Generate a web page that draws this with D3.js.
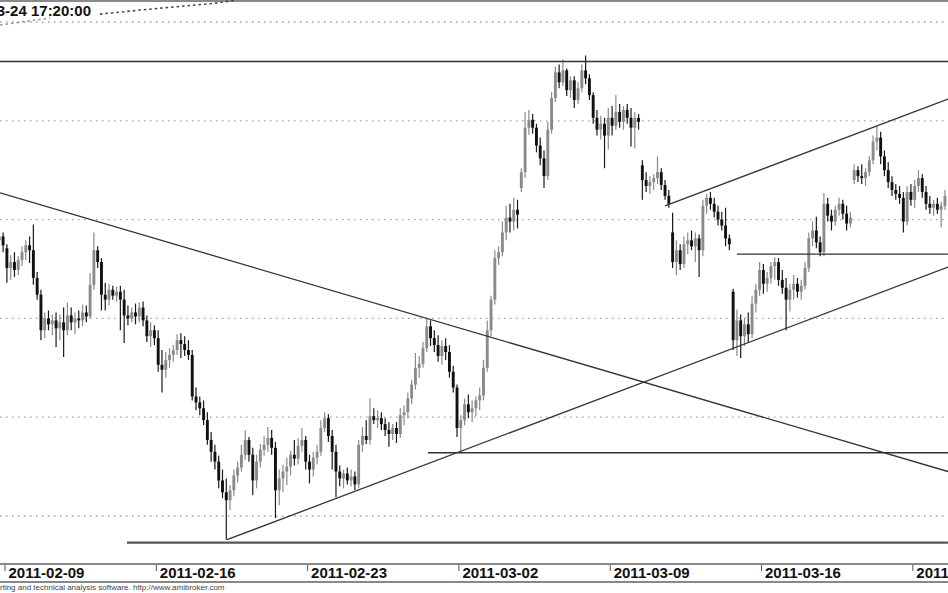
<!DOCTYPE html>
<html><head><meta charset="utf-8">
<script src="https://cdn.jsdelivr.net/npm/d3@7/dist/d3.min.js"></script>
<style>html,body{margin:0;padding:0;background:#fff;}svg{display:block;}</style>
</head><body>
<svg id="chart" width="948" height="593"></svg>
<script>
const days = ["2011-02-08","2011-02-09","2011-02-10","2011-02-11","2011-02-14","2011-02-15","2011-02-16","2011-02-17","2011-02-18","2011-02-21","2011-02-22","2011-02-23","2011-02-24","2011-02-25","2011-02-28","2011-03-01","2011-03-02","2011-03-03","2011-03-04","2011-03-07","2011-03-08","2011-03-09","2011-03-10","2011-03-11","2011-03-14","2011-03-15","2011-03-16","2011-03-17","2011-03-18","2011-03-21","2011-03-22","2011-03-23","2011-03-24"];
const slotsPerDay = 8;
const firstSlot = 6;
const tickDays = ["2011-02-09","2011-02-16","2011-02-23","2011-03-02","2011-03-09","2011-03-16","2011-03-23"];
const gridValues = [3900,4000,4100,4200,4300,4400];
const titleText = "2011-03-24 17:20:00";
const footerText = "AmiBroker - charting and technical analysis software. http://www.amibroker.com";
const footerHidden = "AmiBroker - cha";

const opens = [
4179,4183,
4171,4151,4157,4149,4159,4167,4174,4169,
4141,4124,4088,4100,4094,4098,4090,4096,
4088,4103,4096,4100,4098,4106,4102,4134,
4169,4157,4124,4119,4129,4123,4127,4119,
4103,4100,4106,4102,4111,4098,4082,4088,
4080,4053,4048,4058,4063,4068,4078,4074,
4068,4063,4021,4015,4009,3997,3977,3965,
3955,3936,3924,3916,3926,3941,3949,3962,
3977,3962,3936,3955,3967,3972,3979,3969,
3926,3938,3945,3950,3962,3958,3971,3977,
3955,3947,3959,3965,3989,3999,3981,3965,
3945,3938,3943,3936,3940,3932,3972,3981,
3977,4001,3997,3999,3993,3987,3983,3989,
3983,4002,4005,4019,4033,4050,4054,4070,
4092,4080,4073,4062,4072,4066,4046,4030,
3989,3997,4013,4005,4009,4017,4022,4050,
4088,4119,4161,4167,4187,4202,4198,4210,
4232,4248,4293,4301,4293,4275,4262,4244,
4291,4323,4349,4339,4351,4331,4341,4321,
4333,4351,4343,4326,4303,4291,4297,4285,
4303,4295,4309,4299,4311,4303,4293,4303,
4255,4240,4234,4238,4242,4248,4235,4224,
4187,4157,4169,4155,4175,4179,4173,4181,
4169,4214,4222,4216,4208,4200,4194,4181,
4127,4078,4098,4082,4094,4084,4115,4129,
4149,4135,4141,4153,4157,4139,4131,4119,
4129,4135,4127,4133,4151,4181,4189,4177,
4167,4216,4204,4198,4210,4216,4206,4196,
4240,4250,4244,4242,4248,4260,4279,4283,
4264,4250,4238,4230,4226,4222,4198,4228,
4220,4234,4242,4228,4216,4212,4216,4210,
4214];
const highs = [
4191,4187,
4175,4164,4167,4163,4173,4179,4183,4195,
4147,4129,4106,4108,4104,4106,4104,4111,
4116,4111,4106,4108,4114,4113,4146,4187,
4173,4161,4136,4135,4133,4132,4133,4129,
4113,4111,4115,4116,4117,4103,4096,4093,
4088,4068,4066,4070,4073,4084,4085,4082,
4078,4068,4030,4021,4017,4005,3985,3972,
3961,3947,3938,3931,3947,3955,3972,3987,
3980,3969,3962,3973,3981,3990,3987,3975,
3947,3952,3959,3966,3977,3979,3989,3981,
3962,3965,3972,3997,4005,4003,3987,3972,
3951,3947,3949,3947,3945,3977,3990,3997,
4019,4009,4007,4005,3999,3995,3993,3995,
4009,4012,4025,4038,4065,4062,4076,4100,
4098,4088,4083,4078,4080,4073,4052,4033,
4002,4019,4023,4017,4021,4030,4058,4098,
4123,4169,4173,4198,4214,4216,4222,4220,
4252,4309,4311,4307,4297,4283,4270,4299,
4329,4355,4357,4362,4353,4345,4345,4339,
4357,4366,4347,4329,4311,4305,4303,4313,
4315,4326,4317,4315,4317,4313,4309,4307,
4260,4248,4244,4246,4264,4252,4240,4230,
4207,4179,4175,4183,4187,4189,4187,4185,
4220,4226,4228,4222,4214,4208,4212,4185,
4130,4109,4104,4100,4106,4123,4135,4157,
4155,4147,4157,4162,4161,4149,4141,4135,
4144,4141,4139,4157,4187,4198,4203,4183,
4227,4222,4210,4214,4222,4220,4214,4208,
4256,4254,4256,4252,4264,4285,4294,4289,
4270,4258,4244,4236,4234,4228,4234,4236,
4240,4250,4246,4234,4224,4220,4222,4218,
4230];
const lows = [
4171,4167,
4136,4139,4142,4144,4153,4159,4156,4134,
4119,4078,4080,4088,4083,4071,4078,4061,
4083,4088,4084,4090,4092,4096,4100,4129,
4151,4108,4108,4113,4119,4117,4088,4075,
4093,4096,4094,4096,4092,4076,4071,4073,
4046,4025,4040,4050,4056,4063,4060,4062,
4058,4017,4007,4002,3992,3972,3955,3947,
3928,3918,3876,3906,3920,3934,3945,3957,
3955,3921,3928,3949,3961,3965,3962,3898,
3911,3924,3931,3941,3951,3952,3965,3947,
3933,3940,3952,3961,3985,3975,3947,3919,
3930,3928,3932,3930,3926,3928,3965,3973,
3972,3993,3989,3987,3981,3970,3977,3974,
3979,3992,3999,4013,4028,4040,4050,4066,
4072,4066,4056,4053,4058,4040,4025,3980,
3965,3992,3999,3995,4001,4007,4017,4046,
4082,4114,4154,4163,4179,4187,4189,4191,
4228,4242,4286,4287,4268,4255,4232,4240,
4287,4319,4333,4335,4325,4323,4313,4317,
4329,4337,4321,4297,4285,4281,4252,4271,
4285,4291,4293,4291,4297,4274,4272,4291,
4220,4228,4226,4230,4236,4230,4220,4212,
4151,4144,4149,4151,4165,4169,4157,4142,
4163,4206,4210,4202,4194,4189,4173,4169,
4068,4062,4060,4072,4076,4080,4106,4123,
4125,4127,4135,4139,4133,4125,4088,4107,
4119,4121,4119,4129,4147,4173,4171,4163,
4163,4198,4189,4194,4204,4200,4189,4192,
4236,4238,4236,4234,4244,4256,4270,4256,
4244,4232,4224,4220,4216,4187,4194,4214,
4212,4228,4222,4210,4206,4204,4206,4192,
4210];
const closes = [
4183,4174,
4151,4157,4149,4159,4167,4174,4169,4141,
4124,4088,4100,4094,4098,4090,4096,4088,
4103,4096,4100,4098,4106,4102,4134,4169,
4157,4124,4119,4129,4123,4127,4119,4103,
4100,4106,4102,4111,4098,4082,4088,4080,
4053,4048,4058,4063,4068,4078,4074,4068,
4063,4021,4015,4009,3997,3977,3965,3955,
3936,3924,3916,3926,3941,3949,3962,3977,
3962,3936,3955,3967,3972,3979,3969,3926,
3938,3945,3950,3962,3958,3971,3977,3955,
3947,3959,3965,3989,3999,3981,3965,3945,
3938,3943,3936,3940,3932,3972,3981,3977,
4001,3997,3999,3993,3987,3983,3989,3983,
4002,4005,4019,4033,4050,4054,4070,4092,
4080,4073,4062,4072,4066,4046,4030,3989,
3997,4013,4005,4009,4017,4022,4050,4088,
4119,4161,4167,4187,4202,4198,4210,4205,
4248,4293,4301,4293,4275,4262,4244,4291,
4323,4349,4339,4351,4331,4341,4321,4333,
4351,4343,4326,4303,4291,4297,4285,4303,
4295,4309,4299,4311,4303,4293,4303,4299,
4240,4234,4238,4242,4248,4235,4224,4216,
4157,4169,4155,4175,4179,4173,4181,4169,
4214,4222,4216,4208,4200,4194,4181,4175,
4078,4098,4082,4094,4084,4115,4129,4149,
4135,4141,4153,4157,4139,4131,4119,4129,
4135,4127,4133,4151,4181,4189,4177,4167,
4216,4204,4198,4210,4216,4206,4196,4202,
4250,4244,4242,4248,4260,4279,4283,4264,
4250,4238,4230,4226,4222,4198,4228,4220,
4234,4242,4228,4216,4212,4216,4210,4214,
4224];

// trend lines: [slot position, price] pairs
const trendDown = [[6.68, 4227], [257.3, 3945]];
const trendUp = [[66.69, 3876], [257.3, 4152]];
const channelTop = [[182.49, 4214], [257.3, 4322]];
const levelTop = [[0, 4360], [257.3, 4360]];
const levelMid = [[201.5, 4165], [257.3, 4165]];
const levelLow = [[119.8, 3964], [257.3, 3964]];
const levelSupport = [[40.25, 3873], [257.3, 3873]];
const dottedLight = [[6.68, 4397], [19.9, 4404]];
const dottedDark = [[33.1, 4408], [49.0, 4414], [63.5, 4419], [68.8, 4422]];

const W = 948, H = 593;
const svg = d3.select("#chart");
const x = d3.scaleLinear().domain([0, days.length * slotsPerDay]).range([-25.26, -25.26 + days.length * 30.26]);
const y = d3.scaleLinear().domain([3900, 4400]).range([516, 22]);

svg.append("defs").append("clipPath").attr("id","plot").append("rect").attr("x",0).attr("y",0).attr("width",W).attr("height",562);

// top frame line
svg.append("line").attr("x1",0).attr("x2",W).attr("y1",1).attr("y2",1).attr("stroke","#8a8a8a").attr("stroke-width",2);

// grid
svg.append("g").selectAll("line").data(gridValues).join("line")
  .attr("x1",0).attr("x2",W).attr("y1",d=>y(d)).attr("y2",d=>y(d))
  .attr("stroke","#a0a0a0").attr("stroke-width",1.3).attr("stroke-dasharray","1.5,4.5");

const plot = svg.append("g").attr("clip-path","url(#plot)");
const line = d3.line().x(d=>x(d[0])).y(d=>y(d[1]));

// dotted indicator line at top
plot.append("path").attr("d",line(dottedLight)).attr("fill","none").attr("stroke","#999").attr("stroke-width",1.6).attr("stroke-dasharray","2.5,3");
plot.append("path").attr("d",line(dottedDark)).attr("fill","none").attr("stroke","#444").attr("stroke-width",1.6).attr("stroke-dasharray","2.5,3");

// candles
const bars = opens.map((o,i)=>({o, h:highs[i], l:lows[i], c:closes[i], g:firstSlot+i}));
const cg = plot.append("g");
cg.selectAll("line.wick").data(bars).join("line").attr("class","wick")
  .attr("x1",d=>x(d.g+0.5)).attr("x2",d=>x(d.g+0.5))
  .attr("y1",d=>y(d.h)).attr("y2",d=>y(d.l))
  .attr("stroke",d=>d.c>=d.o?"#8a8a8a":"#1a1a1a").attr("stroke-width",1.2);
cg.selectAll("rect.body").data(bars).join("rect").attr("class","body")
  .attr("x",d=>x(d.g+0.5)-1.45).attr("width",2.9)
  .attr("y",d=>y(Math.max(d.o,d.c)))
  .attr("height",d=>Math.max(1.2,y(Math.min(d.o,d.c))-y(Math.max(d.o,d.c))))
  .attr("fill",d=>d.c>=d.o?"#8a8a8a":"#111");

// trend lines
[trendDown, trendUp, channelTop, levelTop, levelMid, levelLow].forEach(t=>{
  plot.append("path").attr("d",line(t)).attr("fill","none").attr("stroke","#333").attr("stroke-width",1.3);
});
plot.append("path").attr("d",line(levelSupport)).attr("fill","none").attr("stroke","#555").attr("stroke-width",2.2);

// title
svg.append("text").attr("x",91).attr("y",16).attr("text-anchor","end")
  .attr("font-family","'Liberation Sans', Arial, sans-serif").attr("font-weight","bold").attr("font-size",15)
  .attr("fill","#111").text(titleText);

// x axis frame
svg.append("line").attr("x1",0).attr("x2",W).attr("y1",564).attr("y2",564).attr("stroke","#888").attr("stroke-width",2);
svg.append("line").attr("x1",0).attr("x2",W).attr("y1",582).attr("y2",582).attr("stroke","#888").attr("stroke-width",2);
const ax = svg.append("g");
tickDays.forEach(dy=>{
  const xi = x(days.indexOf(dy) * slotsPerDay);
  ax.append("line").attr("x1",xi).attr("x2",xi).attr("y1",565).attr("y2",571).attr("stroke","#555").attr("stroke-width",1);
  ax.append("text").attr("x",xi+3.5).attr("y",577.5)
    .attr("font-family","'Liberation Sans', Arial, sans-serif").attr("font-weight","bold").attr("font-size",15)
    .attr("fill","#111").text(dy);
});

// footer
const ft = svg.append("text").attr("y",590).attr("font-family","'Liberation Sans', Arial, sans-serif").attr("font-size",8).attr("fill","#444").text(footerText);
const tmp = svg.append("text").attr("font-family","'Liberation Sans', Arial, sans-serif").attr("font-size",8).text(footerHidden);
const pw = tmp.node().getComputedTextLength();
tmp.remove();
ft.attr("x", -pw);
</script>
</body></html>
